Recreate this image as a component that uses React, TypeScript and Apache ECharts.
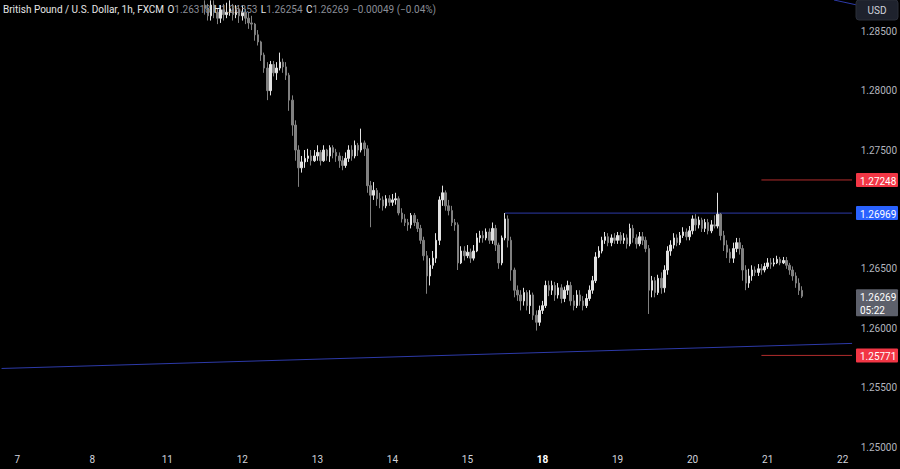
import React, { useEffect, useRef } from 'react';
import * as echarts from 'echarts';

// ---- data ----
// Each hourly bar: [close, low, high]; the open is the previous bar's close.
const FIRST_OPEN = 1.2872;

const DAY_LABELS = ['6', '7', '8', '11', '12', '13', '14', '15', '18', '19', '20', '21', '22'];
const DAY_FIRST_HOUR: Record<string, number> = { '6': 19 };
const DAY_LAST_HOUR: Record<string, number> = { '22': 3 };

const bars11 = [ // from 12:00
  [1.2869, 1.2864, 1.2876], [1.2863, 1.2859, 1.2873], [1.2872, 1.2859, 1.2876], [1.2866, 1.2861, 1.2876],
  [1.2861, 1.2856, 1.2869], [1.2868, 1.2857, 1.2872], [1.2864, 1.2859, 1.2873], [1.2866, 1.2861, 1.2874],
  [1.2869, 1.2863, 1.2876], [1.2864, 1.2859, 1.2873], [1.2868, 1.2861, 1.2872], [1.2863, 1.2857, 1.2872],
];
const bars12 = [
  [1.2866, 1.2859, 1.2872], [1.2861, 1.2856, 1.2869], [1.2857, 1.2852, 1.2866], [1.2856, 1.2851, 1.2863],
  [1.2847, 1.2842, 1.2857], [1.2841, 1.2838, 1.2851], [1.2830, 1.2825, 1.2842], [1.2819, 1.2815, 1.2832],
  [1.2800, 1.2792, 1.2824], [1.2822, 1.2796, 1.2825], [1.2815, 1.2812, 1.2825], [1.2819, 1.2809, 1.2824],
  [1.2824, 1.2817, 1.2832], [1.2820, 1.2815, 1.2827], [1.2813, 1.2809, 1.2824], [1.2792, 1.2783, 1.2815],
  [1.2771, 1.2762, 1.2796], [1.2750, 1.2741, 1.2775], [1.2735, 1.2719, 1.2754], [1.2740, 1.2731, 1.2745],
  [1.2743, 1.2735, 1.2750], [1.2745, 1.2740, 1.2751], [1.2741, 1.2737, 1.2750], [1.2745, 1.2740, 1.2750],
];
const bars13 = [
  [1.2748, 1.2741, 1.2754], [1.2741, 1.2737, 1.2750], [1.2750, 1.2740, 1.2754], [1.2745, 1.2741, 1.2751],
  [1.2752, 1.2740, 1.2754], [1.2748, 1.2743, 1.2754], [1.2745, 1.2740, 1.2751], [1.2741, 1.2735, 1.2748],
  [1.2737, 1.2733, 1.2745], [1.2743, 1.2735, 1.2748], [1.2750, 1.2740, 1.2754], [1.2745, 1.2741, 1.2754],
  [1.2754, 1.2743, 1.2758], [1.2750, 1.2745, 1.2756], [1.2756, 1.2748, 1.2768], [1.2751, 1.2745, 1.2758],
  [1.2720, 1.2714, 1.2754], [1.2712, 1.2685, 1.2724], [1.2716, 1.2708, 1.2723], [1.2709, 1.2703, 1.2718],
  [1.2708, 1.2701, 1.2714], [1.2703, 1.2699, 1.2711], [1.2709, 1.2701, 1.2712], [1.2706, 1.2703, 1.2712],
];
const bars14 = [
  [1.2708, 1.2703, 1.2713], [1.2709, 1.2704, 1.2714], [1.2697, 1.2695, 1.2711], [1.2692, 1.2689, 1.2701],
  [1.2689, 1.2686, 1.2696], [1.2687, 1.2682, 1.2692], [1.2695, 1.2684, 1.2697], [1.2689, 1.2686, 1.2697],
  [1.2684, 1.2681, 1.2692], [1.2674, 1.2671, 1.2687], [1.2661, 1.2657, 1.2677], [1.2644, 1.2629, 1.2665],
  [1.2653, 1.2636, 1.2659], [1.2659, 1.2650, 1.2665], [1.2674, 1.2655, 1.2680], [1.2708, 1.2670, 1.2711],
  [1.2714, 1.2703, 1.2720], [1.2703, 1.2699, 1.2716], [1.2699, 1.2695, 1.2708], [1.2689, 1.2686, 1.2703],
  [1.2687, 1.2682, 1.2692], [1.2655, 1.2649, 1.2689], [1.2665, 1.2654, 1.2669], [1.2661, 1.2657, 1.2669],
];
const bars15 = [
  [1.2664, 1.2659, 1.2670], [1.2659, 1.2655, 1.2667], [1.2665, 1.2657, 1.2670], [1.2676, 1.2664, 1.2680],
  [1.2678, 1.2672, 1.2682], [1.2676, 1.2672, 1.2682], [1.2681, 1.2674, 1.2684], [1.2674, 1.2671, 1.2684],
  [1.2684, 1.2671, 1.2689], [1.2670, 1.2665, 1.2687], [1.2655, 1.2650, 1.2672], [1.2676, 1.2653, 1.2678],
  [1.2692, 1.2674, 1.2697], [1.2674, 1.2668, 1.2695], [1.2649, 1.2640, 1.2677], [1.2632, 1.2626, 1.2651],
  [1.2628, 1.2623, 1.2636], [1.2623, 1.2615, 1.2632], [1.2630, 1.2619, 1.2634], [1.2619, 1.2615, 1.2632],
  [1.2628, 1.2612, 1.2632], [1.2611, 1.2607, 1.2630], [1.2605, 1.2598, 1.2615], [1.2615, 1.2602, 1.2619],
];
const bars18 = [
  [1.2619, 1.2612, 1.2623], [1.2636, 1.2617, 1.2640], [1.2632, 1.2627, 1.2640], [1.2636, 1.2628, 1.2640],
  [1.2628, 1.2623, 1.2639], [1.2634, 1.2625, 1.2638], [1.2625, 1.2621, 1.2637], [1.2632, 1.2622, 1.2635],
  [1.2636, 1.2628, 1.2640], [1.2623, 1.2619, 1.2639], [1.2619, 1.2615, 1.2628], [1.2628, 1.2617, 1.2632],
  [1.2623, 1.2619, 1.2632], [1.2619, 1.2615, 1.2627], [1.2625, 1.2617, 1.2629], [1.2632, 1.2623, 1.2636],
  [1.2640, 1.2629, 1.2644], [1.2660, 1.2638, 1.2664], [1.2665, 1.2659, 1.2669], [1.2674, 1.2663, 1.2677],
  [1.2677, 1.2671, 1.2681], [1.2672, 1.2669, 1.2680], [1.2676, 1.2669, 1.2679], [1.2674, 1.2671, 1.2680],
];
const bars19 = [
  [1.2678, 1.2671, 1.2681], [1.2674, 1.2671, 1.2681], [1.2676, 1.2671, 1.2680], [1.2671, 1.2667, 1.2679],
  [1.2684, 1.2669, 1.2688], [1.2676, 1.2672, 1.2687], [1.2671, 1.2667, 1.2679], [1.2677, 1.2669, 1.2681],
  [1.2674, 1.2670, 1.2681], [1.2667, 1.2664, 1.2677], [1.2632, 1.2612, 1.2670], [1.2640, 1.2626, 1.2644],
  [1.2630, 1.2626, 1.2643], [1.2642, 1.2628, 1.2645], [1.2634, 1.2629, 1.2647], [1.2649, 1.2630, 1.2653],
  [1.2665, 1.2645, 1.2669], [1.2670, 1.2661, 1.2674], [1.2676, 1.2667, 1.2680], [1.2672, 1.2669, 1.2679],
  [1.2678, 1.2670, 1.2681], [1.2681, 1.2676, 1.2685], [1.2677, 1.2674, 1.2684], [1.2682, 1.2674, 1.2686],
];
const bars20 = [
  [1.2692, 1.2679, 1.2695], [1.2687, 1.2682, 1.2696], [1.2691, 1.2684, 1.2694], [1.2684, 1.2681, 1.2693],
  [1.2689, 1.2681, 1.2692], [1.2682, 1.2679, 1.2692], [1.2687, 1.2680, 1.2691], [1.2686, 1.2684, 1.2695],
  [1.2696, 1.2684, 1.2714], [1.2678, 1.2674, 1.2697], [1.2670, 1.2665, 1.2682], [1.2664, 1.2659, 1.2674],
  [1.2659, 1.2655, 1.2667], [1.2667, 1.2655, 1.2672], [1.2672, 1.2664, 1.2676], [1.2667, 1.2662, 1.2676],
  [1.2649, 1.2640, 1.2670], [1.2638, 1.2632, 1.2653], [1.2644, 1.2634, 1.2650], [1.2649, 1.2640, 1.2653],
  [1.2647, 1.2644, 1.2652], [1.2650, 1.2644, 1.2654], [1.2649, 1.2645, 1.2654], [1.2652, 1.2647, 1.2655],
];
const bars21 = [
  [1.2655, 1.2650, 1.2659], [1.2654, 1.2650, 1.2659], [1.2655, 1.2652, 1.2659], [1.2658, 1.2654, 1.2661],
  [1.2655, 1.2653, 1.2660], [1.2657, 1.2654, 1.2660], [1.2653, 1.2650, 1.2660], [1.2649, 1.2645, 1.2655],
  [1.2644, 1.2640, 1.2652], [1.2638, 1.2634, 1.2647], [1.26318, 1.2628, 1.2642], [1.26269, 1.26254, 1.26353],
];
const BARS_BY_DAY: Record<string, { start: number; bars: number[][] }> = {
  '11': { start: 12, bars: bars11 },
  '12': { start: 0, bars: bars12 },
  '13': { start: 0, bars: bars13 },
  '14': { start: 0, bars: bars14 },
  '15': { start: 0, bars: bars15 },
  '18': { start: 0, bars: bars18 },
  '19': { start: 0, bars: bars19 },
  '20': { start: 0, bars: bars20 },
  '21': { start: 0, bars: bars21 },
};

// drawn levels
const RESISTANCE = 1.26969;
const RESISTANCE_FROM = '15 12:00';
const UPPER_LEVEL = 1.27248;
const LOWER_LEVEL = 1.25771;
const LEVELS_FROM = '20 22:00';
const TREND_START = 1.25661;
const TREND_END = 1.25872;
const LAST_PRICE = 1.26269;
const COUNTDOWN = '05:22';
const TAGGED_PRICES = [UPPER_LEVEL, RESISTANCE, LAST_PRICE, LOWER_LEVEL];

const Y_TICKS = { min: 1.25, max: 1.28763, interval: 0.005 };

const HEADER = {
  title: 'British Pound / U.S. Dollar, 1h, FXCM',
  o: '1.26318', h: '1.26353', l: '1.26254', c: '1.26269', chg: '−0.00049 (−0.04%)',
};

// ---- build category axis & OHLC ----
const categories: string[] = [];
const ohlc: any[] = [];
let prevClose = FIRST_OPEN;
for (const d of DAY_LABELS) {
  const h0 = DAY_FIRST_HOUR[d] ?? 0;
  const h1 = DAY_LAST_HOUR[d] ?? 23;
  const info = BARS_BY_DAY[d];
  for (let h = h0; h <= h1; h++) {
    categories.push(`${d} ${String(h).padStart(2, '0')}:00`);
    const bi = info ? h - info.start : -1;
    if (info && bi >= 0 && bi < info.bars.length) {
      const [c, l, hi] = info.bars[bi];
      ohlc.push([prevClose, c, l, hi]);
      prevClose = c;
    } else {
      ohlc.push('-');
    }
  }
}
const lastIdx = categories.length - 1;

const UP = '#e2e2e2';
const DOWN = '#808080';
const FONT = 'Roboto, "Noto Sans", sans-serif';
const BLUE_LINE = '#2d3aa8';
const RED_LINE = '#b02c2c';

export default function App() {
  const ref = useRef<HTMLDivElement>(null);
  useEffect(() => {
    document.body.style.margin = '0';
    document.body.style.background = '#000';
    const chart = echarts.init(ref.current!, undefined, { renderer: 'svg' });
    const option: any = {
      animation: false,
      backgroundColor: '#000000',
      grid: { left: -2, right: 45, top: 0, bottom: 22, containLabel: false },
      xAxis: {
        type: 'category',
        data: categories,
        boundaryGap: true,
        axisLine: { show: false },
        axisTick: { show: false },
        splitLine: { show: false },
        axisLabel: {
          interval: (_i: number, v: string) => v.endsWith(' 00:00'),
          formatter: (v: string) => {
            const d = v.split(' ')[0];
            return d === '18' ? `{b|${d}}` : d;
          },
          color: '#d1d4dc',
          fontSize: 10,
          fontFamily: FONT,
          margin: 7,
          rich: { b: { color: '#ffffff', fontWeight: 'bold', fontSize: 10, fontFamily: FONT } },
        },
      },
      yAxis: {
        type: 'value',
        position: 'right',
        min: Y_TICKS.min,
        max: Y_TICKS.max,
        interval: Y_TICKS.interval,
        scale: true,
        axisLine: { show: false },
        axisTick: { show: false },
        splitLine: { show: false },
        axisLabel: {
          showMaxLabel: false,
          // like the price scale, a tick label under a price tag is not drawn
          formatter: (v: number) => (TAGGED_PRICES.some((p) => Math.abs(p - v) < 0.0006) ? '' : v.toFixed(5)),
          color: '#b2b5be',
          fontSize: 10,
          fontFamily: FONT,
          margin: 7,
        },
      },
      series: [
        {
          type: 'line',
          data: [[0, TREND_START], [lastIdx, TREND_END]],
          showSymbol: false,
          lineStyle: { color: BLUE_LINE, width: 1 },
          z: 1,
        },
        {
          type: 'line',
          data: [[categories.indexOf(RESISTANCE_FROM), RESISTANCE], [lastIdx, RESISTANCE]],
          showSymbol: false,
          lineStyle: { color: BLUE_LINE, width: 1 },
          z: 1,
        },
        {
          type: 'line',
          data: [[categories.indexOf(LEVELS_FROM), UPPER_LEVEL], [lastIdx, UPPER_LEVEL]],
          showSymbol: false,
          lineStyle: { color: RED_LINE, width: 1 },
          z: 1,
        },
        {
          type: 'line',
          data: [[categories.indexOf(LEVELS_FROM), LOWER_LEVEL], [lastIdx, LOWER_LEVEL]],
          showSymbol: false,
          lineStyle: { color: RED_LINE, width: 1 },
          z: 1,
        },
        {
          type: 'candlestick',
          data: ohlc,
          barWidth: 2,
          clip: true,
          itemStyle: { color: UP, color0: DOWN, borderColor: UP, borderColor0: DOWN, borderWidth: 1 },
          z: 2,
        },
      ],
    };
    chart.setOption(option);

    // price tags on the price scale, placed through the y-axis scale
    const tag = (value: number, bg: string, lines: string[], key: string) => {
      const y = chart.convertToPixel({ yAxisIndex: 0 }, value) as number;
      const h = lines.length > 1 ? 27 : 14;
      return {
        type: 'group',
        id: key,
        z: 30,
        children: [
          { type: 'rect', shape: { x: 856, y: y - 7, width: 42, height: h, r: 1 }, style: { fill: bg }, z: 30 },
          {
            type: 'text', x: 860, y: y - 7 + 2, z: 31,
            style: { text: lines.join('\n'), fill: '#ffffff', font: `10px ${FONT}`, lineHeight: 12.5, verticalAlign: 'top' },
          },
        ],
      };
    };

    chart.setOption({
      graphic: [
        { type: 'line', id: 'tl', shape: { x1: 834, y1: 0, x2: 857, y2: 5 }, style: { stroke: BLUE_LINE, lineWidth: 1 }, z: 5 },
        { type: 'rect', id: 'usdbox', shape: { x: 856, y: 0, width: 42, height: 20, r: 3 }, style: { fill: '#1e222d', stroke: '#2a2e39' }, z: 10 },
        { type: 'text', id: 'usd', x: 877, y: 10, style: { text: 'USD', fill: '#d1d4dc', font: `10px ${FONT}`, align: 'center', verticalAlign: 'middle' }, z: 11 },
        tag(UPPER_LEVEL, '#f23645', [UPPER_LEVEL.toFixed(5)], 'tagUp'),
        tag(RESISTANCE, '#2962ff', [RESISTANCE.toFixed(5)], 'tagRes'),
        tag(LAST_PRICE, '#5d606b', [LAST_PRICE.toFixed(5), COUNTDOWN], 'tagLast'),
        tag(LOWER_LEVEL, '#f23645', [LOWER_LEVEL.toFixed(5)], 'tagLow'),
        {
          type: 'text', id: 'hdr', x: 3, y: 3, z: 20,
          style: {
            text: `{t|${HEADER.title}} {k|O}{v|${HEADER.o}} {k|H}{v|${HEADER.h}} {k|L}{v|${HEADER.l}} {k|C}{v|${HEADER.c}} {v|${HEADER.chg}}`,
            rich: {
              t: { fill: '#e6e6e6', fontSize: 10, fontFamily: FONT },
              k: { fill: '#e6e6e6', fontSize: 10, fontFamily: FONT },
              v: { fill: '#8a8d96', fontSize: 10, fontFamily: FONT },
            },
          },
        },
      ],
    });
    return () => chart.dispose();
  }, []);
  return <div ref={ref} style={{ position: 'fixed', left: 0, top: 0, width: 900, height: 469 }} />;
}
